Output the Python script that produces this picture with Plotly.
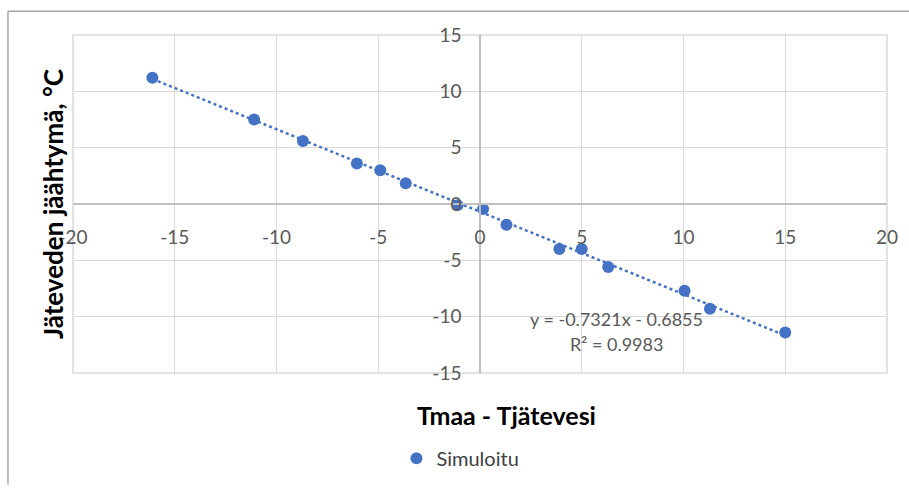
import numpy as np
import plotly.graph_objects as go

# data
x_vals = [-16.1, -11.1, -8.7, -6.05, -4.9, -3.65, -1.1, 0.15, 1.3, 3.9, 5.0, 6.3, 10.05, 11.3, 15.0]
y_vals = [11.2, 7.5, 5.6, 3.6, 3.0, 1.85, -0.1, -0.45, -1.85, -4.0, -4.0, -5.6, -7.7, -9.3, -11.4]

x_ticks = [-20, -15, -10, -5, 0, 5, 10, 15, 20]
y_ticks = [-15, -10, -5, 0, 5, 10, 15]

# trendline as printed on the chart
slope = -0.7321
intercept = -0.6855
r2 = 0.9983

blue = "#4472C4"
grey_txt = "#595959"
font = "Lato"

tx = np.array([min(x_vals), max(x_vals)])
ty = slope * tx + intercept

fig = go.Figure()
fig.add_trace(go.Scatter(x=tx, y=ty, mode="lines", showlegend=False,
                         line=dict(color=blue, width=2.5, dash="dot"), hoverinfo="skip"))
fig.add_trace(go.Scatter(x=x_vals, y=y_vals, mode="markers", name="Simuloitu",
                         marker=dict(color=blue, size=12)))

axis_common = dict(
    showgrid=True, gridcolor="#D9D9D9", gridwidth=1,
    zeroline=False, showline=True, linecolor="#BFBFBF", linewidth=1.5,
    anchor="free", position=0.5, ticks="", automargin=False,
    tickfont=dict(family=font, size=19, color=grey_txt),
)

fig.update_layout(
    width=909, height=490,
    margin=dict(l=73, r=22, t=35, b=112),
    paper_bgcolor="white", plot_bgcolor="white",
    font=dict(family=font),
    xaxis=dict(range=[-20, 20], tickvals=x_ticks, ticktext=[str(v) for v in x_ticks],
               ticklabelstandoff=16, **axis_common),
    yaxis=dict(range=[-15, 15], tickvals=y_ticks, ticktext=[str(v) for v in y_ticks],
               ticklabelstandoff=14, **axis_common),
    showlegend=True,
    legend=dict(x=0.476, y=-0.252, xanchor="center", yanchor="middle",
                font=dict(family=font, size=20, color="#404040"),
                bgcolor="rgba(0,0,0,0)"),
)

# plot area border and outer frame
fig.add_shape(type="rect", xref="paper", yref="paper", x0=0, x1=1, y0=0, y1=1,
              line=dict(color="#D9D9D9", width=1.5), layer="below")
fig.add_shape(type="line", xref="paper", yref="paper", x0=-0.0799, x1=1.03, y0=1.07, y1=1.07,
              line=dict(color="#A6A6A6", width=1.5))
fig.add_shape(type="line", xref="paper", yref="paper", x0=-0.0799, x1=-0.0799, y0=1.07, y1=-0.33,
              line=dict(color="#A6A6A6", width=1.5))

# axis titles
fig.add_annotation(text="<b>Tmaa - Tjätevesi</b>", xref="paper", yref="paper",
                   x=0.532, y=-0.125, xanchor="center", yanchor="middle", showarrow=False,
                   font=dict(family=font, size=25, color="black"))
fig.add_annotation(text="<b>Jäteveden jäähtymä, °C</b>", xref="paper", yref="paper",
                   x=-0.0246, y=0.5, xanchor="center", yanchor="middle",
                   textangle=-90, showarrow=False,
                   font=dict(family=font, size=26, color="black"))

# trendline label
fig.add_annotation(text=f"y = {slope}x - {abs(intercept)}", x=6.73, y=-10.2,
                   showarrow=False, font=dict(family=font, size=18, color=grey_txt))
fig.add_annotation(text=f"R² = {r2}", x=6.73, y=-12.45,
                   showarrow=False, font=dict(family=font, size=18, color=grey_txt))

# drop the default body margin so the figure fills the window exactly
fig.write_html("out.html", config={"displayModeBar": False},
               post_script="document.body.style.margin='0';")
